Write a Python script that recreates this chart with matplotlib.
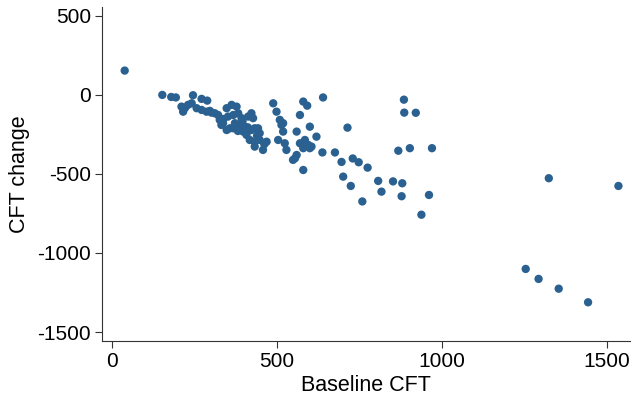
import matplotlib
matplotlib.use('Agg')
import matplotlib.pyplot as plt

plt.rcParams['font.family'] = ['Liberation Sans', 'DejaVu Sans']

# Data
baseline_cft = [39, 153, 180, 194, 246, 272, 289, 211, 216, 231, 242, 257, 272, 287, 297,
                312, 322, 327, 332, 348, 363, 378, 352, 368, 383, 393, 337, 348, 358, 373,
                388, 403, 413, 423, 428, 368, 398, 408, 423, 443, 448, 433, 418, 433, 448,
                469, 433, 458, 489, 499, 509, 519, 514, 519, 504, 524, 529, 560, 570, 580,
                592, 600, 570, 585, 595, 600, 580, 555, 560, 549, 580, 620, 605, 640, 638,
                676, 696, 714, 701, 724, 730, 748, 775, 759, 807, 817, 852, 880, 878, 938,
                961, 885, 886, 921, 868, 903, 970, 1324, 1535, 1254, 1293, 1354, 1443,
                222, 302, 338, 396, 412, 382, 440, 462]
cft_change = [154, 0, -13, -16, -2, -25, -36, -74, -106, -63, -53, -84, -95, -106, -101,
              -116, -127, -158, -190, -84, -63, -74, -137, -127, -116, -147, -179, -222, -211, -179,
              -190, -201, -137, -116, -147, -211, -232, -253, -222, -211, -242, -211, -285, -296, -285,
              -296, -327, -348, -53, -106, -158, -179, -190, -232, -285, -306, -348, -232, -127, -42,
              -68, -201, -306, -285, -316, -337, -337, -401, -380, -411, -475, -264, -327, -16, -364,
              -364, -424, -207, -517, -576, -402, -426, -460, -674, -544, -612, -547, -559, -641, -758,
              -633, -30, -112, -113, -353, -337, -337, -527, -576, -1101, -1164, -1226, -1312,
              -82, -112, -152, -168, -205, -228, -258, -312]

x_ticks = [0, 500, 1000, 1500]
y_ticks = [500, 0, -500, -1000, -1500]

fig = plt.figure(figsize=(6.37, 4.05), dpi=100, facecolor='white')
ax = fig.add_axes([0.160, 0.158, 0.829, 0.825])

ax.scatter(baseline_cft, cft_change, s=36, color='#2a6190', edgecolors='none', zorder=3)

ax.set_xlim(-30, 1570)
ax.set_ylim(-1557, 557)
ax.set_xticks(x_ticks)
ax.set_yticks(y_ticks)
ax.set_yticklabels([str(v) for v in y_ticks])

ax.set_xlabel('Baseline CFT', fontsize=15.5, labelpad=3)
ax.set_ylabel('CFT change', fontsize=15.5, labelpad=5)

ax.spines['top'].set_visible(False)
ax.spines['right'].set_visible(False)
ax.spines['left'].set_color('#333333')
ax.spines['bottom'].set_color('#333333')
ax.tick_params(axis='both', labelsize=15, length=5, color='#333333', direction='out', pad=3)

plt.savefig('out.png', dpi=100)
